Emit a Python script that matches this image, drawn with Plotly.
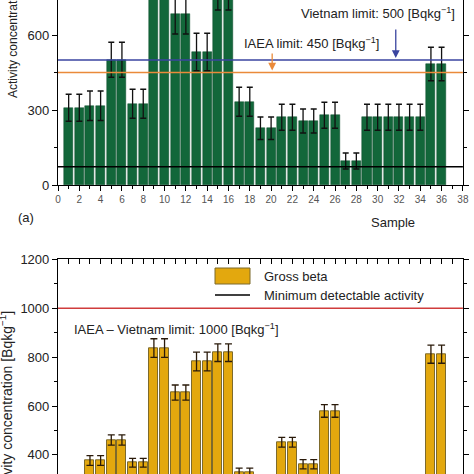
import plotly.graph_objects as go

# ---------------- data ----------------
samples = list(range(1, 37))

# (a) green bars: activity concentration, with uncertainty
green_vals = [309, 309, 317, 317, 501, 501, 325, 325, 900, 900,
              683, 683, 532, 532, 780, 780, 333, 333, 227, 227,
              271, 271, 256, 256, 279, 279, 96, 96, 271, 271,
              271, 271, 271, 271, 484, 484]
green_err = [54, 54, 59, 59, 70, 70, 58, 58, 100, 100,
             79, 79, 75, 75, 80, 80, 58, 58, 45, 45,
             52, 52, 48, 48, 52, 52, 32, 32, 52, 52,
             52, 52, 52, 52, 67, 67]
mda_top = 73
vietnam_limit = 500
iaea_limit = 450

# (b) gross beta
beta_vals = [280, 280, 377, 377, 461, 461, 368, 368, 837, 837,
             655, 655, 782, 782, 818, 818, 327, 327, 270, 270,
             452, 452, 362, 362, 580, 580, 150, 150, 260, 260,
             260, 260, 260, 260, 812, 812]
beta_err = [18, 18, 20, 20, 21, 21, 18, 18, 38, 38,
            31, 31, 38, 38, 36, 36, 19, 19, 18, 18,
            20, 20, 19, 19, 26, 26, 15, 15, 18, 18,
            18, 18, 18, 18, 37, 37]
mda_beta = 60
beta_limit = 1000

FONT = "Liberation Sans, Arial, sans-serif"
GREEN = "#12673a"
GOLD = "#e3a80e"
BLUE = "#3a45a0"
ORANGE = "#ea8a3a"
RED = "#d03c3c"

fig = go.Figure()

fig.add_trace(go.Bar(
    x=samples, y=green_vals, width=0.85, xaxis="x", yaxis="y",
    marker=dict(color=GREEN, line=dict(color="#0b4a28", width=0.5)),
    error_y=dict(type="data", array=green_err, color="#111111", thickness=1.3, width=3),
    showlegend=False))

fig.add_trace(go.Bar(
    x=samples, y=beta_vals, width=0.85, xaxis="x2", yaxis="y2",
    marker=dict(color=GOLD, line=dict(color="#7d6a2c", width=1)),
    error_y=dict(type="data", array=beta_err, color="#2a1a0a", thickness=1.3, width=3.5),
    showlegend=False))

# horizontal reference lines (data coordinates)
for yv, col, xa, ya in [(vietnam_limit, BLUE, "x", "y"), (iaea_limit, ORANGE, "x", "y"),
                        (mda_top, "black", "x", "y"), (beta_limit, RED, "x2", "y2"),
                        (mda_beta, "black", "x2", "y2")]:
    fig.add_trace(go.Scatter(x=[0, 38], y=[yv, yv], mode="lines", xaxis=xa, yaxis=ya,
                             line=dict(color=col, width=1.4), showlegend=False,
                             hoverinfo="skip", cliponaxis=True))

top_dom = [1 - 185 / 474, 1]
bot_dom = [0, 1 - 259.3 / 474]

common = dict(showgrid=False, zeroline=False, linecolor="black", linewidth=1.2,
              tickcolor="black", tickwidth=1.2, automargin=False)

fig.update_layout(
    width=474, height=474,
    margin=dict(l=58, r=11, t=0, b=0, autoexpand=False),
    paper_bgcolor="white", plot_bgcolor="white",
    font=dict(family=FONT, size=13, color="#222"),
    bargap=0,
    xaxis=dict(domain=[0, 1], anchor="y", range=[0, 38.01], tickvals=list(range(0, 39, 2)),
               ticks="outside", ticklen=5, showline=True,
               minor=dict(dtick=1, ticklen=3, ticks="outside", tickcolor="black"),
               tickfont=dict(size=10, color="#555"), **common),
    yaxis=dict(domain=top_dom, anchor="x", range=[0, 740], dtick=300, tick0=0,
               ticks="outside", ticklen=5, showline=True, mirror="ticks",
               minor=dict(dtick=150, ticklen=3, ticks="outside", tickcolor="black"),
               tickfont=dict(size=13, color="#222"), **common),
    xaxis2=dict(domain=[0, 1], anchor="y2", side="top", range=[0, 38.01], dtick=1,
                showticklabels=False, ticks="inside", ticklen=5, showline=True,
                **common),
    yaxis2=dict(domain=bot_dom, anchor="x2", range=[322, 1200], dtick=200, tick0=0,
                ticks="outside", ticklen=5, showline=True, mirror="ticks",
                minor=dict(dtick=100, ticklen=3, ticks="outside", tickcolor="black"),
                tickfont=dict(size=13, color="#222"), **common),
)

ann = []
PW = 474 - 58 - 11


def px_x(p):
    return (p - 58) / PW


def px_y(p):
    return 1 - p / 474


# y-axis titles (panels are cropped, so placed explicitly)
ytitle = "Activity concentration [Bqkg<sup>−1</sup>]"
ann.append(dict(text=ytitle, xref="paper", yref="paper", x=px_x(12), y=px_y(18),
                textangle=-90, showarrow=False, font=dict(size=12, color="#222"),
                xanchor="center", yanchor="middle"))
ann.append(dict(text=ytitle, xref="paper", yref="paper", x=px_x(6), y=px_y(405),
                textangle=-90, showarrow=False, font=dict(size=14, color="#222"),
                xanchor="center", yanchor="middle"))
ann.append(dict(text="(a)", xref="paper", yref="paper", x=px_x(16), y=px_y(217),
                showarrow=False, font=dict(size=13, color="#222")))
ann.append(dict(text="Sample", xref="paper", yref="paper", x=px_x(417), y=px_y(222),
                showarrow=False, font=dict(size=13, color="#222")))

# limit labels
ann.append(dict(text="Vietnam limit: 500 [Bqkg<sup>−1</sup>]", xref="x", yref="y",
                x=30.0, y=688, showarrow=False, font=dict(size=13, color="#222")))
ann.append(dict(text="IAEA limit: 450 [Bqkg<sup>−1</sup>]", xref="x", yref="y",
                x=23.8, y=568, showarrow=False, font=dict(size=13, color="#222")))
ann.append(dict(text="IAEA – Vietnam limit: 1000 [Bqkg<sup>−1</sup>]", xref="x2", yref="y2",
                x=11.1, y=914, showarrow=False, font=dict(size=13, color="#222")))

# arrows
ann.append(dict(x=31.7, y=vietnam_limit + 8, xref="x", yref="y", ax=31.7, ay=628,
                axref="x", ayref="y", showarrow=True, arrowhead=2, arrowsize=1.2,
                arrowwidth=1.3, arrowcolor=BLUE, text=""))
ann.append(dict(x=20.1, y=iaea_limit + 8, xref="x", yref="y", ax=20.1, ay=532,
                axref="x", ayref="y", showarrow=True, arrowhead=2, arrowsize=1.2,
                arrowwidth=1.3, arrowcolor=ORANGE, text=""))

# legend (bottom panel)
ann.append(dict(text="Gross beta", xref="paper", yref="paper", x=px_x(262), y=px_y(276.5),
                xanchor="left", yanchor="middle", showarrow=False,
                font=dict(size=13, color="#222")))
ann.append(dict(text="Minimum detectable activity", xref="paper", yref="paper",
                x=px_x(262), y=px_y(295), xanchor="left", yanchor="middle",
                showarrow=False, font=dict(size=13, color="#222")))

shapes = [
    dict(type="rect", xref="paper", yref="paper", x0=px_x(215), x1=px_x(250),
         y0=px_y(284), y1=px_y(268), fillcolor=GOLD, line=dict(color="#7d6a2c", width=1)),
    dict(type="line", xref="paper", yref="paper", x0=px_x(215), x1=px_x(250),
         y0=px_y(295), y1=px_y(295), line=dict(color="black", width=1.4)),
]

fig.update_layout(annotations=ann, shapes=shapes)
fig.write_html("out.html",
               config={"displayModeBar": False},
               post_script="document.body.style.margin='0';document.body.style.padding='0';"
                           "document.body.style.overflow='hidden';")
